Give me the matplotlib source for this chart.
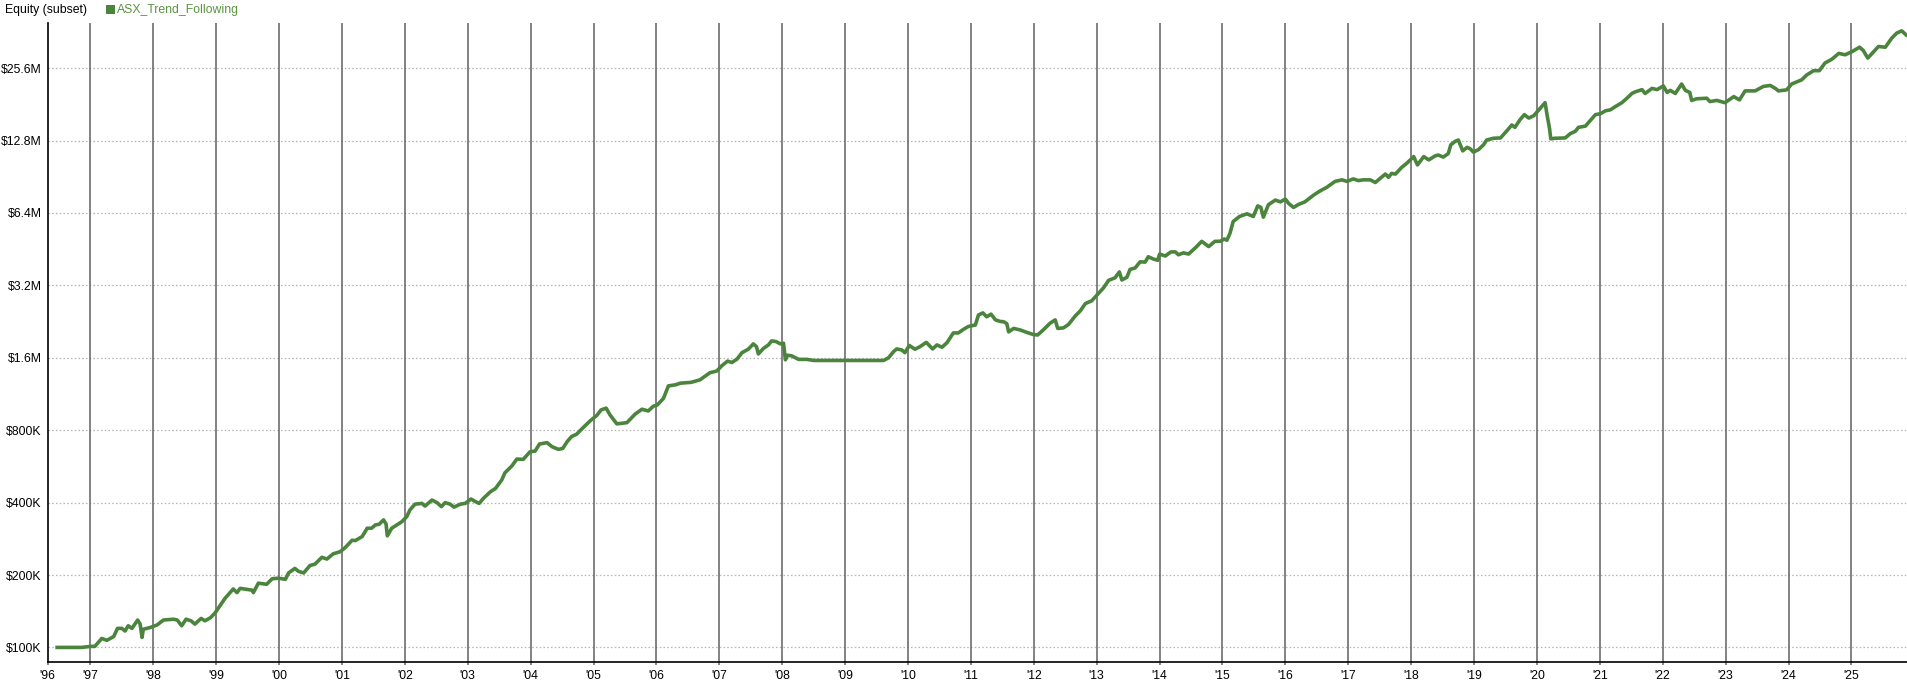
import matplotlib
matplotlib.use("Agg")
import matplotlib.pyplot as plt
from matplotlib.patches import Rectangle
import numpy as np

# ---- data ----
years = [
    1996.47, 1996.86, 1997.00, 1997.07, 1997.18, 1997.26, 1997.37, 1997.43, 1997.50, 1997.55,
    1997.60, 1997.66, 1997.75, 1997.79, 1997.82, 1997.84, 1997.95, 1998.06, 1998.16, 1998.32,
    1998.38, 1998.45, 1998.52, 1998.60, 1998.66, 1998.76, 1998.82, 1998.91, 1998.98, 1999.06,
    1999.14, 1999.27, 1999.33, 1999.38, 1999.57, 1999.59, 1999.67, 1999.80, 1999.89, 1999.99,
    2000.10, 2000.15, 2000.25, 2000.31, 2000.39, 2000.49, 2000.57, 2000.68, 2000.76, 2000.86,
    2000.97, 2001.05, 2001.16, 2001.21, 2001.32, 2001.40, 2001.47, 2001.53, 2001.59, 2001.66,
    2001.70, 2001.72, 2001.79, 2001.87, 2001.95, 2002.03, 2002.08, 2002.16, 2002.27, 2002.32,
    2002.43, 2002.51, 2002.58, 2002.64, 2002.72, 2002.78, 2002.88, 2002.96, 2003.05, 2003.12,
    2003.18, 2003.25, 2003.36, 2003.44, 2003.54, 2003.59, 2003.70, 2003.78, 2003.88, 2003.99,
    2004.07, 2004.14, 2004.26, 2004.34, 2004.44, 2004.51, 2004.58, 2004.65, 2004.73, 2004.84,
    2004.95, 2005.05, 2005.12, 2005.20, 2005.26, 2005.37, 2005.53, 2005.66, 2005.77, 2005.87,
    2005.95, 2006.01, 2006.11, 2006.19, 2006.30, 2006.38, 2006.55, 2006.69, 2006.85, 2006.96,
    2007.04, 2007.13, 2007.20, 2007.28, 2007.36, 2007.46, 2007.54, 2007.59, 2007.62, 2007.70,
    2007.78, 2007.83, 2007.90, 2007.97, 2008.02, 2008.05, 2008.08, 2008.15, 2008.26, 2008.39,
    2008.50, 2009.61, 2009.69, 2009.77, 2009.82, 2009.90, 2009.95, 2010.02, 2010.11, 2010.19,
    2010.29, 2010.39, 2010.46, 2010.54, 2010.62, 2010.72, 2010.80, 2010.88, 2010.96, 2011.07,
    2011.12, 2011.19, 2011.25, 2011.32, 2011.39, 2011.47, 2011.52, 2011.57, 2011.60, 2011.68,
    2011.78, 2011.89, 2011.99, 2012.06, 2012.15, 2012.26, 2012.34, 2012.38, 2012.47, 2012.55,
    2012.66, 2012.74, 2012.82, 2012.92, 2013.00, 2013.11, 2013.19, 2013.29, 2013.36, 2013.40,
    2013.48, 2013.53, 2013.61, 2013.69, 2013.77, 2013.82, 2013.90, 2013.97, 2014.00, 2014.09,
    2014.18, 2014.25, 2014.30, 2014.38, 2014.46, 2014.57, 2014.67, 2014.78, 2014.88, 2014.96,
    2015.03, 2015.07, 2015.12, 2015.17, 2015.27, 2015.39, 2015.49, 2015.56, 2015.61, 2015.65,
    2015.73, 2015.84, 2015.92, 2016.00, 2016.05, 2016.13, 2016.21, 2016.31, 2016.45, 2016.55,
    2016.66, 2016.79, 2016.90, 2016.98, 2017.08, 2017.16, 2017.24, 2017.35, 2017.43, 2017.51,
    2017.59, 2017.64, 2017.69, 2017.75, 2017.85, 2017.93, 2018.04, 2018.10, 2018.20, 2018.28,
    2018.38, 2018.43, 2018.51, 2018.59, 2018.63, 2018.70, 2018.75, 2018.82, 2018.89, 2018.94,
    2018.99, 2019.07, 2019.15, 2019.20, 2019.31, 2019.42, 2019.52, 2019.60, 2019.65, 2019.73,
    2019.80, 2019.87, 2019.95, 2020.01, 2020.06, 2020.13, 2020.16, 2020.20, 2020.22, 2020.29,
    2020.45, 2020.53, 2020.61, 2020.66, 2020.77, 2020.85, 2020.93, 2021.01, 2021.09, 2021.17,
    2021.24, 2021.35, 2021.43, 2021.51, 2021.56, 2021.67, 2021.72, 2021.83, 2021.91, 2022.01,
    2022.07, 2022.12, 2022.20, 2022.30, 2022.36, 2022.43, 2022.46, 2022.54, 2022.70, 2022.75,
    2022.86, 2022.99, 2023.13, 2023.22, 2023.31, 2023.47, 2023.60, 2023.71, 2023.79, 2023.84,
    2023.97, 2024.05, 2024.21, 2024.29, 2024.40, 2024.49, 2024.58, 2024.69, 2024.80, 2024.90,
    2025.01, 2025.13, 2025.19, 2025.26, 2025.33, 2025.43, 2025.54, 2025.64, 2025.72, 2025.80,
    2025.87,
]

equity_k = [
    100, 100, 101, 101, 109, 107, 111, 120, 120, 117,
    123, 120, 130, 125, 110, 119, 121, 124, 130, 131,
    130, 123, 131, 129, 125, 132, 129, 133, 139, 149,
    160, 175, 169, 176, 173, 169, 185, 183, 193, 194,
    192, 204, 213, 207, 204, 219, 222, 237, 233, 245,
    250, 260, 279, 278, 289, 313, 313, 323, 325, 339,
    326, 291, 313, 323, 333, 350, 373, 394, 397, 387,
    410, 400, 385, 400, 394, 383, 394, 397, 414, 404,
    397, 417, 444, 458, 497, 532, 568, 607, 605, 651,
    655, 701, 710, 683, 666, 672, 717, 753, 770, 823,
    877, 921, 972, 988, 927, 850, 860, 933, 978, 962,
    1007, 1017, 1084, 1223, 1235, 1255, 1265, 1295, 1387, 1410,
    1484, 1550, 1530, 1580, 1681, 1737, 1828, 1780, 1660, 1750,
    1810, 1880, 1870, 1828, 1840, 1570, 1640, 1630, 1576, 1576,
    1560, 1560, 1600, 1698, 1742, 1725, 1681, 1800, 1737, 1780,
    1855, 1742, 1810, 1770, 1850, 2030, 2030, 2100, 2160, 2190,
    2410, 2460, 2370, 2430, 2300, 2265, 2260, 2220, 2050, 2120,
    2090, 2040, 2000, 1990, 2090, 2230, 2300, 2120, 2130, 2200,
    2390, 2510, 2690, 2760, 2910, 3130, 3360, 3440, 3640, 3370,
    3460, 3730, 3780, 4010, 4000, 4210, 4120, 4070, 4320, 4240,
    4410, 4410, 4290, 4370, 4320, 4590, 4880, 4640, 4880, 4880,
    4990, 4930, 5280, 5900, 6190, 6350, 6190, 6850, 6750, 6150,
    6930, 7240, 7120, 7310, 7020, 6750, 6950, 7120, 7600, 7900,
    8190, 8660, 8790, 8660, 8870, 8730, 8790, 8790, 8570, 8930,
    9290, 9010, 9350, 9290, 9910, 10300, 10980, 10140, 10980, 10640,
    11050, 11150, 10930, 11300, 12290, 12710, 12870, 11600, 12000, 11830,
    11460, 11740, 12290, 12870, 13090, 13130, 14040, 14860, 14530, 15620,
    16410, 15880, 16250, 16950, 17540, 18390, 16410, 14380, 13020, 13090,
    13130, 13680, 13990, 14530, 14700, 15540, 16410, 16560, 17030, 17190,
    17680, 18400, 19190, 20100, 20400, 20850, 20100, 21100, 20850, 21600,
    20300, 20700, 20100, 22000, 20700, 20300, 18800, 19100, 19200, 18600,
    18800, 18400, 19500, 18900, 20600, 20600, 21500, 21700, 21100, 20600,
    20800, 22000, 22900, 24000, 25000, 25000, 26900, 27900, 29500, 29100,
    30000, 31300, 30300, 28200, 29500, 31500, 31300, 34100, 35800, 36600,
    35200,
]

series_name = "ASX_Trend_Following"
chart_title = "Equity (subset)"
year_ticks = list(range(1997, 2026))
x_start, x_end = 1996.32, 2025.90
y_ticks = [100e3, 200e3, 400e3, 800e3, 1.6e6, 3.2e6, 6.4e6, 12.8e6, 25.6e6]
y_labels = ["$100K", "$200K", "$400K", "$800K", "$1.6M", "$3.2M", "$6.4M", "$12.8M", "$25.6M"]

# ---- style ----
GREEN = "#4b853d"
FONT = ["Liberation Sans", "DejaVu Sans"]
plt.rcParams["font.family"] = FONT

W, H = 1908, 684
fig = plt.figure(figsize=(W / 100, H / 100), dpi=100)
left, right, bottom, top = 47.7, 1908, 662, 22.7
ax = fig.add_axes([left / W, 1 - bottom / H, (right - left) / W, (bottom - top) / H])

ax.set_yscale("log", base=2)
ax.set_xlim(x_start, x_end)
ax.set_ylim(86.97e3, 39.57e6)

# horizontal dotted grid
for v in y_ticks:
    ax.axhline(v, color="#b4b4b4", lw=0.9, ls=(0, (1.2, 1.8)), zorder=1)
# vertical year lines
for yr in year_ticks:
    ax.axvline(yr, color="#676767", lw=1.15, zorder=1)

vals = np.array(equity_k) * 1000.0
ax.plot(years, vals, color=GREEN, lw=2.6, solid_joinstyle="round", zorder=3)

ax.set_yticks(y_ticks)
ax.set_yticklabels(y_labels)
ax.yaxis.set_minor_locator(matplotlib.ticker.NullLocator())
ax.tick_params(axis="y", length=0, pad=4.5, labelsize=8.8, colors="#000000")

xt = [x_start] + year_ticks
xl = ["'%02d" % (int(x_start) % 100)] + ["'%02d" % (y % 100) for y in year_ticks]
ax.set_xticks(xt)
ax.set_xticklabels(xl)
ax.tick_params(axis="x", length=2.5, width=1.1, color="#676767", pad=3.2, labelsize=8.8)

for s in ["top", "right"]:
    ax.spines[s].set_visible(False)
ax.spines["left"].set_color("black")
ax.spines["left"].set_linewidth(1.2)
ax.spines["bottom"].set_color("black")
ax.spines["bottom"].set_linewidth(1.2)
ax.set_facecolor("white")
fig.patch.set_facecolor("white")

# header: title and legend
fig.text(5 / W, 1 - 9.5 / H, chart_title, fontsize=8.8, va="center", ha="left", color="black")
fig.add_artist(Rectangle((106 / W, 1 - 14 / H), 9.5 / W, 9.5 / H,
                         transform=fig.transFigure, facecolor=GREEN, edgecolor="none"))
fig.text(116.5 / W, 1 - 9.5 / H, series_name, fontsize=8.8, va="center", ha="left", color="#5a9440")

fig.savefig("out.png", dpi=100, facecolor="white")
